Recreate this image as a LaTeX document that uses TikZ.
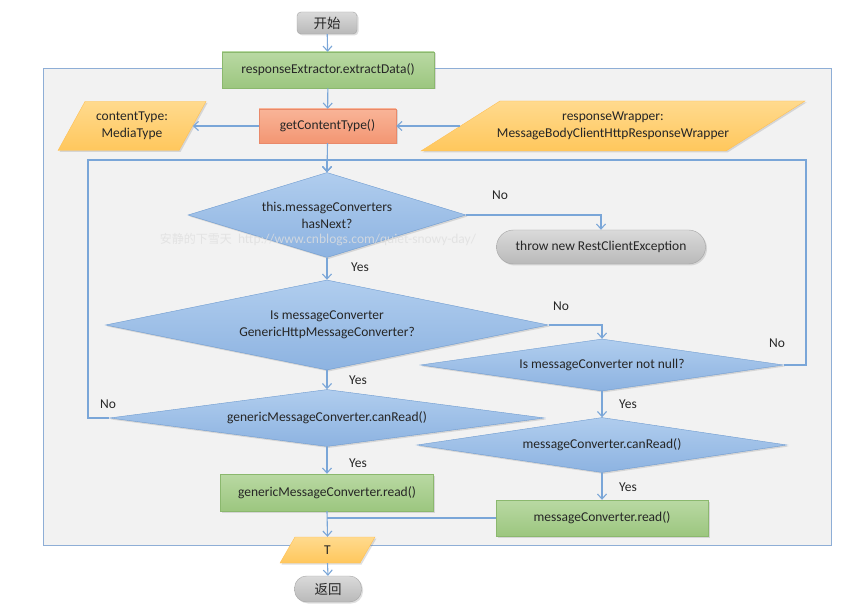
\documentclass[tikz,border=0pt]{standalone}
\usepackage{fontspec}
\setmainfont{Carlito}
\newfontfamily\cjk{Noto Sans CJK SC}
\usetikzlibrary{shapes.geometric,arrows.meta,shadows,calc}
\definecolor{linec}{HTML}{7AA6D8}
\definecolor{framec}{HTML}{8EAED6}
\definecolor{bgc}{HTML}{F2F2F2}
\definecolor{txt}{HTML}{262626}
\definecolor{gtop}{HTML}{B9D9A3}
\definecolor{gbot}{HTML}{9CC67F}
\definecolor{gbd}{HTML}{8BB86E}
\definecolor{otop}{HTML}{F9B497}
\definecolor{obot}{HTML}{F39673}
\definecolor{obd}{HTML}{E9896A}
\definecolor{ytop}{HTML}{FFDA8E}
\definecolor{ybot}{HTML}{FFC75C}
\definecolor{btop}{HTML}{B0CDEE}
\definecolor{bbot}{HTML}{8DB3E1}
\definecolor{bbd}{HTML}{6E9BD0}
\definecolor{stop}{HTML}{DADADA}
\definecolor{sbot}{HTML}{B9B9B9}
\definecolor{sbd}{HTML}{A5A5A5}
\tikzset{
  shd/.style={drop shadow={opacity=0.25,shadow xshift=1.5pt,shadow yshift=-1.5pt}},
  greenbox/.style={rectangle,draw=gbd,top color=gtop,bottom color=gbot,shd,text=txt,inner sep=0pt},
  orangebox/.style={rectangle,draw=obd,top color=otop,bottom color=obot,shd,text=txt,inner sep=0pt},
  graybox/.style={rectangle,draw=sbd,top color=stop,bottom color=sbot,shd,text=txt,inner sep=0pt},
  decision/.style={diamond,inner sep=0pt,draw=bbd,top color=btop,bottom color=bbot,shd,text=txt,align=center},
  pgramfill/.style={top color=ytop,bottom color=ybot,draw=ybot!90!orange,shd},
  ptext/.style={inner sep=0pt,text=txt,align=center},
  arr/.style={draw=linec,line width=1.1pt,-{Straight Barb[length=5pt,width=9pt]}},
  ln/.style={draw=linec,line width=1.1pt},
  lbl/.style={text=txt,inner sep=0pt},
}
\newcommand{\pgramshape}[7]{%
  \path[pgramfill] ({#2-#4/2-#6/2},{#3+#5/2}) -- ({#2+#4/2-#6/2},{#3+#5/2}) -- ({#2+#4/2+#6/2},{#3-#5/2}) -- ({#2-#4/2+#6/2},{#3-#5/2}) -- cycle;
  \node[ptext,minimum width=#4pt,minimum height=#5pt] (#1) at (#2,#3) {#7};}
\begin{document}
\begin{tikzpicture}[x=1pt,y=-1pt,font=\fontsize{13.5}{17}\selectfont]
\useasboundingbox[fill=white] (0,0) rectangle (868,612);
% frame
\draw[fill=bgc,draw=framec,line width=1pt] (43,69) rectangle (831,545);
% nodes
\node[graybox,rounded corners=4pt,minimum width=60pt,minimum height=22pt] (start) at (327,23) {\cjk\fontsize{13.5}{15}\selectfont 开始};
\node[greenbox,minimum width=212pt,minimum height=36pt] (extract) at (328,70) {responseExtractor.extractData()};
\node[orangebox,minimum width=137pt,minimum height=34pt] (gct) at (327.5,126) {getContentType()};
\pgramshape{ct}{132}{126}{121}{49}{27}{contentType:\\MediaType}
\pgramshape{wrap}{613}{126}{305}{50}{79}{responseWrapper:\\MessageBodyClientHttpResponseWrapper}
\node[decision,aspect=3.27,minimum width=278pt,minimum height=85pt] (d1) at (327,215) {this.messageConverters\\hasNext?};
\node[graybox,rounded corners=17pt,minimum width=209pt,minimum height=34pt] (throw) at (601,247) {throw new RestClientException};
\node[decision,aspect=4.9,minimum width=443pt,minimum height=90pt] (d2) at (327,325) {Is messageConverter\\GenericHttpMessageConverter?};
\node[decision,aspect=7,minimum width=363pt,minimum height=52pt] (d3) at (602,365) {Is messageConverter not null?};
\node[decision,aspect=7.6,minimum width=435pt,minimum height=57pt] (d5) at (327,418) {genericMessageConverter.canRead()};
\node[decision,aspect=6.7,minimum width=370pt,minimum height=55pt] (d4) at (602,445) {messageConverter.canRead()};
\node[greenbox,minimum width=213pt,minimum height=37pt] (gread) at (327,492.5) {genericMessageConverter.read()};
\node[greenbox,minimum width=212pt,minimum height=36pt] (mread) at (602,518) {messageConverter.read()};
\pgramshape{T}{327.5}{550}{80}{26}{15}{T}
\node[graybox,rounded corners=12pt,minimum width=67pt,minimum height=26pt] (ret) at (328,589) {\cjk\fontsize{13.5}{15}\selectfont 返回};
% coordinates
\coordinate (lx) at (88,160);
\coordinate (rx) at (806,160);
% connectors
\draw[arr] (start) -- (extract);
\draw[arr] (extract) -- (gct);
\draw[arr] (wrap.west) -- (gct.east);
\draw[arr] (gct.west) -- (ct.east);
\draw[arr] (gct.south) -- (d1.north);
\draw[arr] (d5.west) -| (lx) -| (d1.north);
\draw[arr] (d3.east) -| (rx) -| (d1.north);
\draw[arr] (d1.east) -| (throw.north);
\draw[arr] (d1.south) -- (d2.north);
\draw[arr] (d2.east) -| (d3.north);
\draw[arr] (d2.south) -- (d5.north);
\draw[arr] (d3.south) -- (d4.north);
\draw[arr] (d4.south) -- (mread.north);
\draw[arr] (d5.south) -- (gread.north);
\draw[arr] (gread.south) -- (T.north);
\draw[ln] (mread.west) -- (mread.west -| gread.south);
\draw[arr] (T.south) -- (ret.north);
% labels
\node[lbl] (n1) at (500,195) {No};
\node[lbl] (y1) at (360,267) {Yes};
\node[lbl] (n2) at (561,306) {No};
\node[lbl] (y2) at (358,380) {Yes};
\node[lbl] (n3) at (777,343) {No};
\node[lbl] (y3) at (628,404) {Yes};
\node[lbl] (n4) at (108,404) {No};
\node[lbl] (y4) at (358,463) {Yes};
\node[lbl] (y5) at (628,487) {Yes};
% watermark
\node[text=white!75!gray,opacity=0.8,inner sep=0pt] (wm) at (318,240) {{\cjk\fontsize{12}{14}\selectfont 安静的下雪天}\ \ http://www.cnblogs.com/quiet-snowy-day/};
\end{tikzpicture}
\end{document}
